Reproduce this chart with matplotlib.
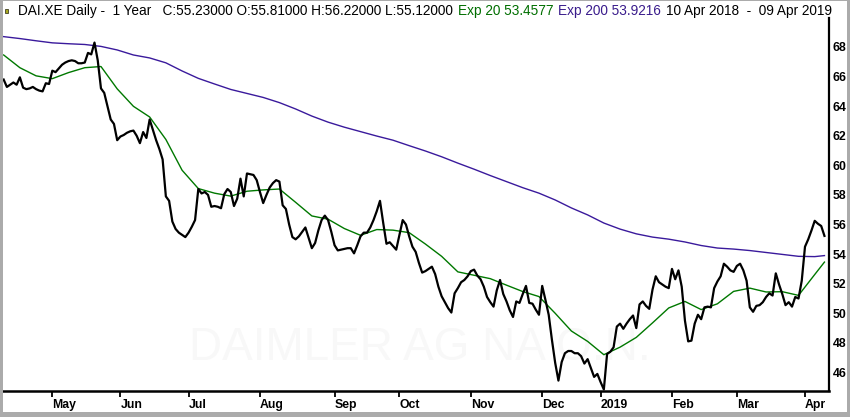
import numpy as np
import pandas as pd
import matplotlib
matplotlib.use("Agg")
import matplotlib.pyplot as plt
from matplotlib.patches import Rectangle

# trading sessions 10 Apr 2018 - 09 Apr 2019 (exchange holidays removed)
holidays = ['2018-05-01', '2018-05-21', '2018-10-03', '2018-12-24',
            '2018-12-25', '2018-12-26', '2019-01-01']
sessions = pd.bdate_range('2018-04-10', '2019-04-09')
sessions = sessions[~sessions.isin(pd.to_datetime(holidays))]

# daily close
close = [
    65.8, 65.3, 65.45, 65.6, 65.45, 65.95, 65.25, 65.15, 65.2, 65.3,
    65.15, 65.05, 65.0, 65.55, 65.5, 66.4, 66.3, 66.55, 66.8, 66.95,
    67.05, 67.1, 67.05, 66.9, 66.9, 66.95, 67.6, 67.5, 68.3, 67.1,
    65.2, 64.9, 64.0, 63.1, 62.8, 61.7, 61.95, 62.05, 62.2, 62.3,
    62.35, 62.0, 61.5, 62.25, 61.85, 63.1, 62.4, 61.7, 61.1, 60.4,
    57.9, 57.6, 56.2, 55.7, 55.45, 55.3, 55.15, 55.45, 55.85, 56.3,
    58.4, 58.1, 58.2, 58.0, 57.2, 57.25, 57.2, 57.1, 58.05, 58.4,
    58.2, 57.25, 57.75, 59.1, 57.9, 59.45, 59.4, 59.35, 59.0, 58.2,
    57.45, 58.0, 58.5, 58.8, 59.0, 58.9, 57.3, 57.05, 56.0, 55.15,
    55.0, 55.2, 55.5, 55.8, 55.1, 54.4, 54.75, 55.6, 56.3, 56.6,
    56.3, 55.5, 54.6, 54.25, 54.3, 54.35, 54.4, 54.4, 54.05, 54.6,
    55.2, 55.45, 55.45, 55.8, 56.3, 56.9, 57.6, 56.1, 54.7, 54.8,
    54.55, 54.3, 55.3, 56.3, 56.0, 55.2, 54.5, 54.15, 53.4, 52.75,
    52.85, 53.0, 53.15, 52.65, 51.8, 51.15, 50.75, 50.35, 50.05, 51.35,
    51.7, 52.1, 52.25, 52.5, 52.85, 52.95, 52.55, 52.3, 51.8, 51.1,
    50.75, 50.45, 51.55, 52.25, 51.3, 50.8, 50.2, 49.75, 50.8, 50.7,
    51.3, 51.85, 50.7, 50.65, 50.25, 49.9, 51.85, 50.9, 49.9, 48.2,
    46.65, 45.45, 46.7, 47.3, 47.45, 47.45, 47.3, 47.3, 47.1, 46.6,
    46.9, 46.3, 45.7, 45.9, 45.35, 44.85, 47.25, 47.4, 47.7, 49.1,
    49.3, 48.95, 49.3, 49.6, 49.85, 49.0, 50.6, 50.8, 50.5, 50.3,
    51.6, 52.5, 52.1, 51.95, 51.8, 51.7, 53.0, 52.3, 52.9, 51.8,
    49.5, 48.1, 48.15, 49.3, 49.9, 49.6, 50.4, 50.45, 50.4, 51.7,
    52.15, 52.5, 53.35, 53.15, 52.9, 52.8, 53.2, 53.35, 52.9, 52.2,
    50.4, 50.1, 50.5, 50.55, 50.75, 51.1, 51.35, 51.2, 52.7, 51.95,
    51.3, 50.55, 50.75, 50.45, 51.1, 51.0, 52.2, 54.5, 55.0, 55.6,
    56.25, 56.05, 55.9, 55.23,
]

# moving averages, read every 5th session plus the last one
ema20 = [
    67.46, 66.6, 66.05, 65.86, 66.27, 66.6, 66.68, 65.17, 63.99, 63.27,
    61.75, 59.67, 58.43, 58.12, 57.92, 58.25, 58.34, 58.4, 57.5, 56.58,
    56.36, 55.73, 55.27, 55.66, 55.62, 55.45, 54.68, 53.85, 52.8, 52.57,
    52.34, 51.9, 51.47, 51.13, 50.0, 48.8, 48.1, 47.2, 47.71, 48.37,
    49.35, 50.36, 50.8, 50.25, 50.64, 51.48, 51.7, 51.44, 51.46, 51.21,
    52.62, 53.46,
]
ema200 = [
    68.7, 68.57, 68.42, 68.28, 68.22, 68.17, 68.04, 67.8, 67.46, 67.26,
    66.93, 66.38, 65.88, 65.5, 65.13, 64.86, 64.59, 64.24, 63.81, 63.33,
    62.92, 62.58, 62.28, 61.98, 61.7, 61.33, 60.97, 60.58, 60.15, 59.74,
    59.31, 58.9, 58.49, 58.12, 57.66, 57.12, 56.65, 56.1, 55.69, 55.37,
    55.15, 55.01, 54.82, 54.58, 54.41, 54.34, 54.24, 54.11, 53.98, 53.85,
    53.83, 53.9,
]

title_parts = [
    ("DAI.XE Daily -  1 Year   C:55.23000 O:55.81000 H:56.22000 L:55.12000", 'black'),
    ("Exp 20 53.4577", '#006e00'),
    ("Exp 200 53.9216", '#3a1c8c'),
    ("10 Apr 2018  -  09 Apr 2019", 'black'),
]

plt.rcParams['font.family'] = ['Liberation Sans', 'DejaVu Sans']

n = len(sessions)
pos = np.arange(n)
ma_pos = np.append(pos[::5], pos[-1])
assert len(close) == n and len(ema20) == len(ma_pos) == len(ema200)

fig = plt.figure(figsize=(8.5, 4.17), dpi=100)
ax = fig.add_axes([3 / 850, 1 - 390.5 / 417, 826 / 850, 372.5 / 417])

ax.plot(ma_pos, ema200, color='#3a1a9c', lw=1.0, zorder=2)
ax.plot(ma_pos, ema20, color='#007800', lw=1.0, zorder=3)
ax.plot(pos, close, color='black', lw=1.6, zorder=4)

ax.text(0.505, 0.115, 'DAIMLER AG NA O.N.', transform=ax.transAxes,
        fontsize=33, color='#f8f8f8', ha='center', va='center', zorder=0)

ax.set_xlim(-0.2, 254.4)
ax.set_ylim(44.78, 69.96)

# month ticks at the first session of each month
firsts = pd.Series(pos, index=sessions).groupby([sessions.year, sessions.month]).first()
firsts = firsts.iloc[1:]
labels = ['2019' if m == 1 else pd.Timestamp(y, m, 1).strftime('%b') for y, m in firsts.index]
ax.set_xticks(firsts.values, labels)
plt.setp(ax.get_xticklabels(), ha='left', fontweight='bold', fontsize=8.8)
ax.tick_params(axis='x', direction='out', length=4.5, width=1.3, pad=1.5)

ax.set_yticks(np.arange(46, 69, 2))
ax.yaxis.tick_right()
ax.tick_params(axis='y', length=0, pad=2.5, labelsize=8.8)
plt.setp(ax.get_yticklabels(), fontweight='bold')

for s in ['left', 'top']:
    ax.spines[s].set_visible(False)
ax.spines['right'].set_linewidth(1.6)
ax.spines['bottom'].set_linewidth(1.8)

# grey window frame
frame = '#ababab'
for r in [(0, 0, 3 / 850, 1), (0, 0, 1, 5 / 417), (847 / 850, 0, 3 / 850, 1), (0, 416 / 417, 1, 1 / 417)]:
    fig.add_artist(Rectangle(r[:2], r[2], r[3], transform=fig.transFigure,
                             facecolor=frame, edgecolor='none'))
fig.add_artist(Rectangle((4.5 / 850, 1 - 12.5 / 417), 3.5 / 850, 3.5 / 417,
                         transform=fig.transFigure, facecolor='#a8a820',
                         edgecolor='#404020', lw=0.6))

# header text, pieces chained one after another
prev = fig.text(18 / 850, 1 - 11.5 / 417, title_parts[0][0], color=title_parts[0][1],
                fontsize=9.8, va='center', ha='left')
for txt, col in title_parts[1:]:
    prev = ax.annotate(txt, xy=(1, 0.5), xycoords=prev, xytext=(3.5, 0),
                       textcoords='offset points', va='center', ha='left',
                       color=col, fontsize=9.8, annotation_clip=False)

fig.savefig('out.png', dpi=100)
